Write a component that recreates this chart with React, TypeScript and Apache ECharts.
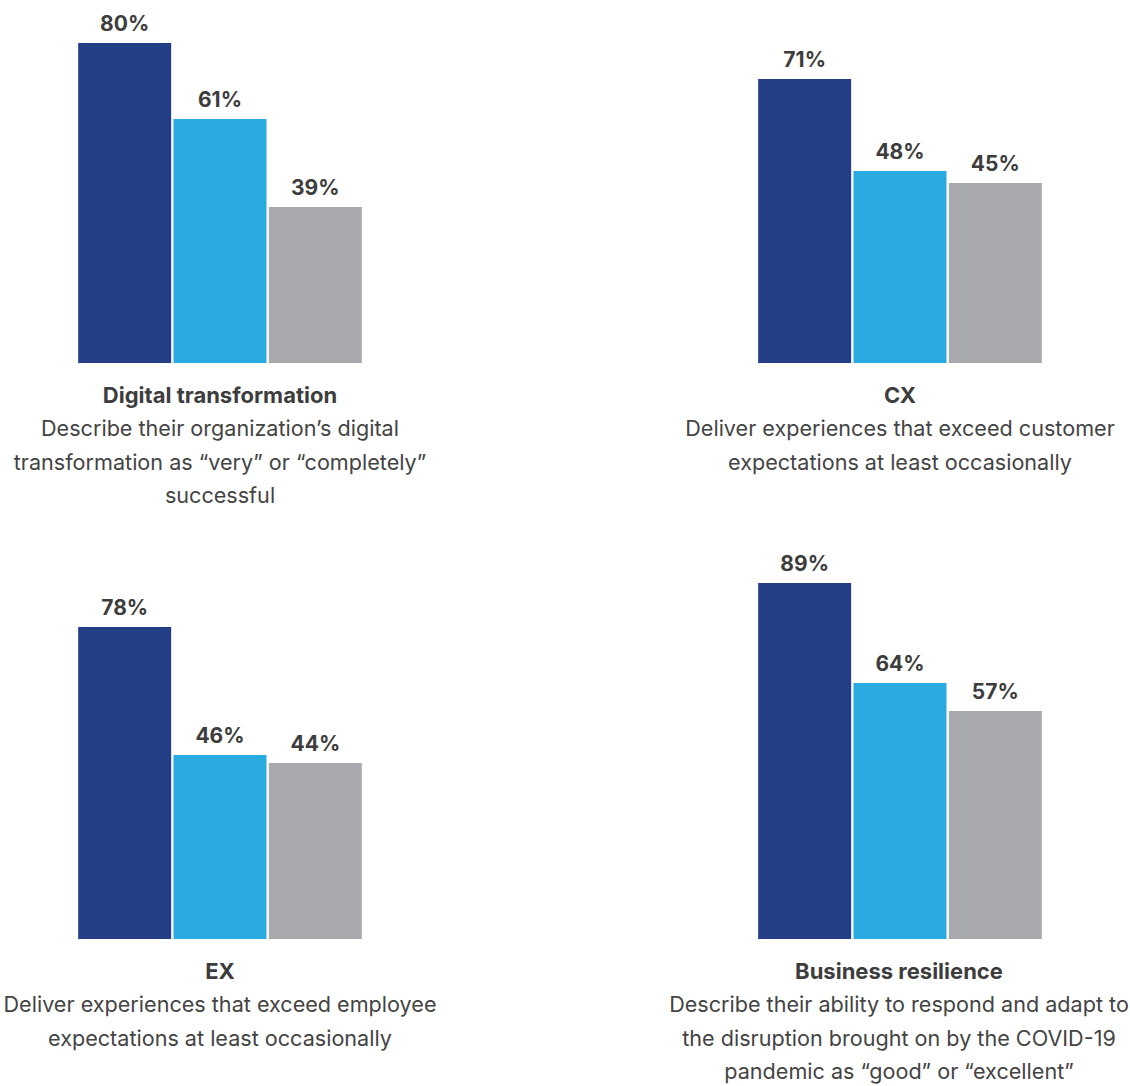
import React, { useEffect, useRef } from "react";
import * as echarts from "echarts";

const panelTitles = ["Digital transformation", "CX", "EX", "Business resilience"];
const panelDescriptions = [
  "Describe their organization\u2019s digital\ntransformation as \u201cvery\u201d or \u201ccompletely\u201d\nsuccessful",
  "Deliver experiences that exceed customer\nexpectations at least occasionally",
  "Deliver experiences that exceed employee\nexpectations at least occasionally",
  "Describe their ability to respond and adapt to\nthe disruption brought on by the COVID-19\npandemic as \u201cgood\u201d or \u201cexcellent\u201d",
];
const groupNames = ["Group 1", "Group 2", "Group 3"];
const group1Values = [80, 71, 78, 89];
const group2Values = [61, 48, 46, 64];
const group3Values = [39, 45, 44, 57];

const groupColors = ["#233e85", "#29abe2", "#a7a9ac"];
const textColor = "#3d3d3d";
const fontFamily = "Inter, sans-serif";

export default function App() {
  const ref = useRef<HTMLDivElement>(null);
  useEffect(() => {
    document.body.style.margin = "0";
    const chart = echarts.init(ref.current!, null, { renderer: "svg" });
    const panels = [
      { left: 77, top: 3, cx: 220, textTop: 378 },
      { left: 757, top: 3, cx: 900, textTop: 378 },
      { left: 77, top: 579, cx: 220, textTop: 954 },
      { left: 757, top: 579, cx: 899, textTop: 954 },
    ];
    const grid: any[] = [];
    const xAxis: any[] = [];
    const yAxis: any[] = [];
    const series: any[] = [];
    const graphic: any[] = [];
    const lh = 33.5;
    panels.forEach((p, i) => {
      grid.push({ left: p.left, top: p.top, width: 286, height: 360 });
      xAxis.push({
        type: "category",
        gridIndex: i,
        data: groupNames,
        show: false,
      });
      yAxis.push({ type: "value", gridIndex: i, min: 0, max: 90, show: false });
      const vals = [group1Values[i], group2Values[i], group3Values[i]];
      series.push({
        type: "bar",
        xAxisIndex: i,
        yAxisIndex: i,
        barWidth: 93,
        data: vals.map((v, j) => ({ value: v, itemStyle: { color: groupColors[j] } })),
        label: {
          show: true,
          position: "top",
          distance: 9,
          formatter: "{c}%",
          color: textColor,
          fontSize: 21,
          fontWeight: "bold",
          fontFamily,
        },
      });
      graphic.push({
        type: "text",
        x: p.cx,
        y: p.textTop,
        style: {
          text: panelTitles[i],
          align: "center",
          verticalAlign: "top",
          lineHeight: lh,
          fontSize: 22,
          fontWeight: "bold",
          fill: textColor,
          fontFamily,
        },
      });
      graphic.push({
        type: "text",
        x: p.cx,
        y: p.textTop + lh,
        style: {
          text: panelDescriptions[i],
          align: "center",
          verticalAlign: "top",
          lineHeight: lh,
          fontSize: 21.6,
          fill: "#444444",
          fontFamily,
        },
      });
    });
    chart.setOption({
      animation: false,
      backgroundColor: "#ffffff",
      grid,
      xAxis,
      yAxis,
      series,
      graphic,
    });
    return () => chart.dispose();
  }, []);
  return (
    <div
      ref={ref}
      style={{ position: "absolute", left: 0, top: 0, width: 1130, height: 1086 }}
    />
  );
}
